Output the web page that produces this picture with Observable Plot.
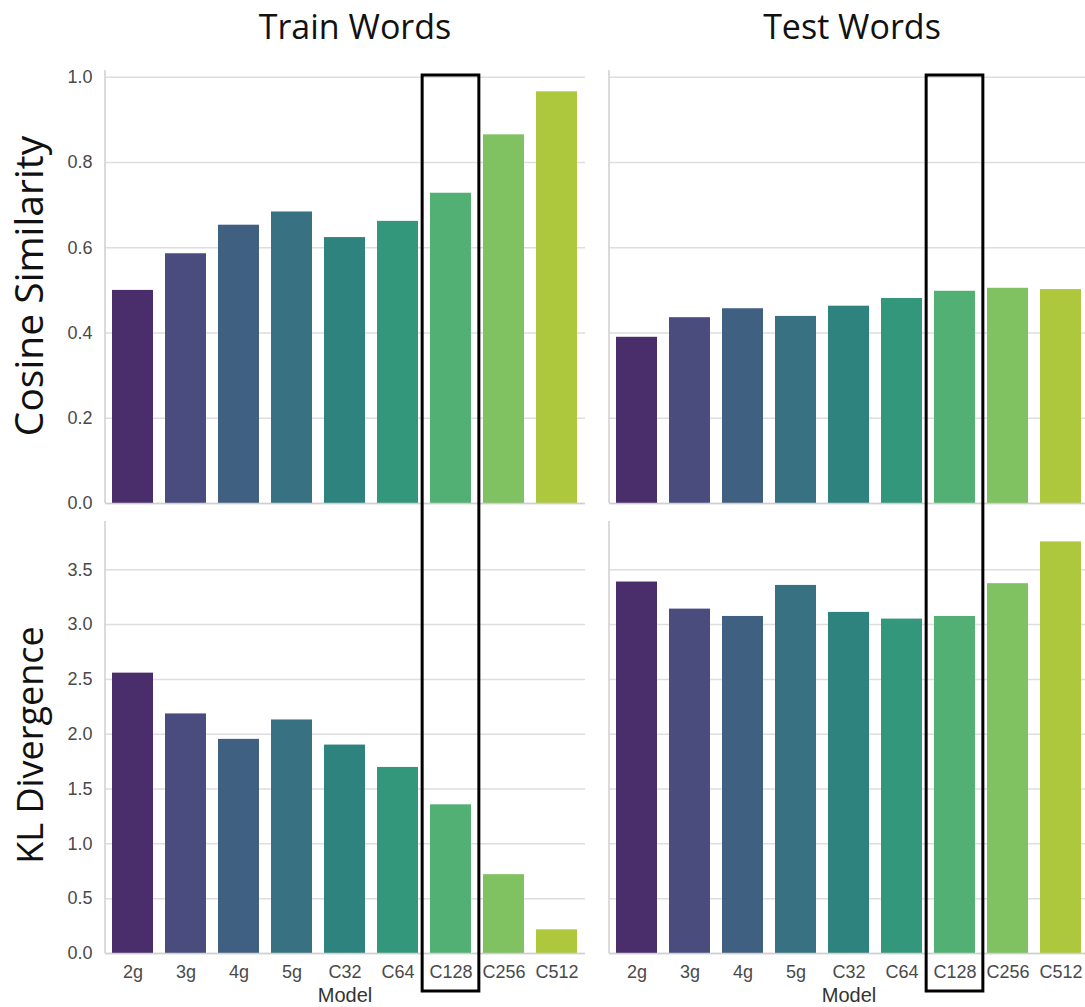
<!DOCTYPE html>
<html><head><meta charset="utf-8">
<script src="https://cdn.jsdelivr.net/npm/d3@7"></script>
<script src="https://cdn.jsdelivr.net/npm/@observablehq/plot@0.6"></script>
<style>
html,body{margin:0;padding:0;background:#fff;overflow:hidden}
#wrap{position:relative;width:1085px;height:1007px;overflow:hidden;background:#fff}
#wrap > svg, #wrap > .pp {position:absolute}
#wrap .pp text{font-size:18px;font-family:'Liberation Sans', Arial, sans-serif;fill:#4a4a4a}
</style></head><body><div id="wrap"></div>
<script>
// ---- data ----
const models = ["2g","3g","4g","5g","C32","C64","C128","C256","C512"];
const cosineTrain = [0.500,0.586,0.653,0.684,0.624,0.662,0.728,0.865,0.966];
const cosineTest  = [0.390,0.436,0.457,0.439,0.463,0.481,0.498,0.505,0.502];
const klTrain = [2.557,2.185,1.953,2.130,1.901,1.697,1.356,0.719,0.216];
const klTest  = [3.388,3.141,3.074,3.357,3.111,3.050,3.074,3.373,3.754];
const cosineTicks = [0,0.2,0.4,0.6,0.8,1.0];
const klTicks = [0,0.5,1.0,1.5,2.0,2.5,3.0,3.5];
const columnTitles = ["Train Words","Test Words"];
const rowTitles = ["Cosine Similarity","KL Divergence"];
const xLabel = "Model";
const highlighted = "C128";

// seaborn-like desaturated viridis palette
const palette = models.map((m,i)=>{const c=d3.hsl(d3.interpolateViridis((i+1)/(models.length+1))); c.s*=0.75; return c.formatHex();});

const wrap = document.getElementById("wrap");
const NS = "http://www.w3.org/2000/svg";

function spine(index, scales, values, dims){
  const g = document.createElementNS(NS,"g");
  if (!dims) return g;
  const l = document.createElementNS(NS,"line");
  l.setAttribute("x1", dims.marginLeft); l.setAttribute("x2", dims.marginLeft);
  l.setAttribute("y1", dims.marginTop); l.setAttribute("y2", dims.height - dims.marginBottom);
  l.setAttribute("stroke","#cfcfcf"); l.setAttribute("stroke-width","1.5");
  g.appendChild(l);
  return g;
}

function panel({values, ticks, yMax, showY, showX, left, top, width, height, mLeft, mTop, mBottom}){
  const data = models.map((m,i)=>({model:m, value:values[i]}));
  const p = Plot.plot({
    width, height, marginLeft:mLeft, marginRight:0, marginTop:mTop, marginBottom:mBottom,
    style:{background:"transparent", fontFamily:"'Liberation Sans', Arial, sans-serif", fontSize:"18px", color:"#4a4a4a", overflow:"visible"},
    x:{domain:models, paddingInner:0.22, paddingOuter:0.11, axis: showX ? "bottom" : null, tickSize:0, tickPadding:12, label:null},
    y:{domain:[0,yMax], ticks, tickFormat:d3.format(".1f"), tickSize:0, tickPadding:13, axis: showY ? "left" : null, label:null, grid:false},
    color:{domain:models, range:palette},
    marks:[
      Plot.ruleY(ticks, {stroke:"#dedede", strokeWidth:1.5}),
      Plot.barY(data, {x:"model", y:"value", fill:"model"}),
      Plot.ruleY([0], {stroke:"#cfcfcf", strokeWidth:1.5}),
      spine
    ]
  });
  p.classList.add("pp");
  p.style.left = left+"px"; p.style.top = top+"px";
  wrap.appendChild(p);
  return p;
}

const topY = 60, botY = 511;
const tl = panel({values:cosineTrain, ticks:cosineTicks, yMax:1.016, showY:true, showX:false, left:0, top:topY, width:585, height:443, mLeft:105, mTop:10, mBottom:0});
const tr = panel({values:cosineTest, ticks:cosineTicks, yMax:1.016, showY:false, showX:false, left:585, top:topY, width:504, height:443, mLeft:24, mTop:10, mBottom:0});
const bl = panel({values:klTrain, ticks:klTicks, yMax:3.94, showY:true, showX:true, left:0, top:botY, width:585, height:496, mLeft:105, mTop:10, mBottom:54});
const br = panel({values:klTest, ticks:klTicks, yMax:3.94, showY:false, showX:true, left:585, top:botY, width:504, height:496, mLeft:24, mTop:10, mBottom:54});

// overlay: titles, labels, highlight boxes
const ov = d3.select(wrap).append("svg").attr("width",1085).attr("height",1007)
  .style("position","absolute").style("left","0px").style("top","0px").style("pointer-events","none");

const colCenters = [355, 852];
columnTitles.forEach((t,i)=>{
  ov.append("text").attr("x",colCenters[i]).attr("y",39).attr("text-anchor","middle")
    .attr("font-family","'Open Sans', sans-serif").attr("font-size",34).attr("fill","#111").text(t);
});
const rowCenters = [286, 745];
const rowSizes = [39, 36];
rowTitles.forEach((t,i)=>{
  ov.append("text").attr("transform",`translate(43,${rowCenters[i]}) rotate(-90)`).attr("text-anchor","middle")
    .attr("font-family","'Open Sans', sans-serif").attr("font-size",rowSizes[i]).attr("fill","#111").text(t);
});
[[bl,0],[br,585]].forEach(([p,off])=>{
  const r = p.scale("x").range;
  ov.append("text").attr("x", off + (r[0]+r[1])/2).attr("y",1002).attr("text-anchor","middle")
    .attr("font-family","'Liberation Sans', Arial, sans-serif").attr("font-size",20).attr("fill","#333").text(xLabel);
});
[[tl,0],[tr,585]].forEach(([p,off])=>{
  const sx = p.scale("x");
  const step = sx.step || sx.bandwidth/(1-0.22);
  const cx = off + sx.apply(highlighted) + sx.bandwidth/2;
  const w = step*1.07;
  ov.append("rect").attr("x",cx-w/2).attr("y",topY+15).attr("width",w).attr("height",(botY+496-54+38)-(topY+15))
    .attr("fill","none").attr("stroke","#000").attr("stroke-width",3);
});
</script></body></html>
